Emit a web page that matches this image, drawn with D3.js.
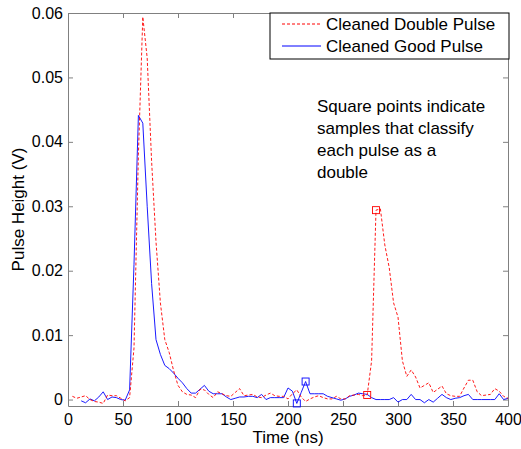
<!DOCTYPE html>
<html>
<head>
<meta charset="utf-8">
<script src="https://cdn.jsdelivr.net/npm/d3@7"></script>
<style>
  body { margin: 0; background: #fff; }
  svg text { font-family: "Liberation Sans", Arial, sans-serif; }
</style>
</head>
<body>
<script>
// samples every 4 ns
const doubleTimes = d3.range(4, 401, 4);
const doubleValues = [
  0.0005, 0.0002, 0.0004, 0.0006, 0.0000, -0.0003, -0.0004, -0.0006, 0.0007, 0.0006,
  0.0006, 0.0002, -0.0002, 0.0003, 0.0080, 0.0380, 0.0594, 0.0530, 0.0370, 0.0245,
  0.0150, 0.0093, 0.0073, 0.0045, 0.0022, 0.0012, 0.0008, 0.0007, 0.0003, 0.0016,
  0.0015, 0.0008, 0.0003, 0.0012, 0.0009, 0.0006, 0.0005, 0.0011, 0.0017, 0.0006,
  0.0007, 0.0008, 0.0004, 0.0003, 0.0007, 0.0010, 0.0006, 0.0005, 0.0005, 0.0001,
  0.0009, 0.0015, 0.0004, -0.0003, 0.0001, 0.0004, 0.0006, 0.0003, 0.0001, 0.0001,
  0.0005, 0.0001, 0.0001, 0.0006, 0.0007, 0.0008, 0.0006, 0.0007, 0.0060, 0.0294,
  0.0296, 0.0240, 0.0205, 0.0150, 0.0128, 0.0060, 0.0036, 0.0046, 0.0035, 0.0018,
  0.0022, 0.0026, 0.0011, 0.0016, 0.0021, 0.0009, 0.0006, 0.0005, 0.0005, 0.0018,
  0.0030, 0.0030, 0.0012, 0.0006, 0.0007, 0.0008, 0.0017, 0.0013, 0.0005, 0.0002
];

const goodTimes = d3.range(12, 401, 4);
const goodValues = [
  -0.0002, -0.0005, 0.0001, -0.0002, 0.0004, 0.0012, 0.0000, 0.0004, 0.0003, 0.0000,
  -0.0001, 0.0015, 0.0210, 0.0441, 0.0429, 0.0300, 0.0180, 0.0093, 0.0070, 0.0053,
  0.0048, 0.0041, 0.0033, 0.0026, 0.0017, 0.0010, 0.0010, 0.0016, 0.0022, 0.0013,
  0.0009, 0.0009, 0.0009, 0.0004, 0.0000, 0.0002, 0.0004, 0.0004, 0.0005, 0.0005,
  0.0003, 0.0008, 0.0000, 0.0003, 0.0003, 0.0003, 0.0003, 0.0018, 0.0013, -0.0006,
  0.0011, 0.0028, 0.0009, 0.0009, 0.0009, 0.0009, 0.0005, 0.0003, 0.0001, -0.0001,
  0.0001, 0.0005, 0.0007, 0.0010, 0.0009, 0.0008, 0.0003, 0.0000, 0.0000, 0.0000,
  0.0000, 0.0003, -0.0004, 0.0000, 0.0000, 0.0008, 0.0000, 0.0000, -0.0005, 0.0000,
  -0.0004, 0.0002, 0.0008, 0.0003, 0.0000, 0.0002, 0.0003, 0.0006, 0.0008, 0.0000,
  0.0000, 0.0000, 0.0000, 0.0000, 0.0000, 0.0009, 0.0000, 0.0002
];

// samples flagged as "double"
const doubleMarks = [272, 280];
const goodMarks = [208, 216];

const xTicks = [0, 50, 100, 150, 200, 250, 300, 350, 400];
const yTicks = [0, 0.01, 0.02, 0.03, 0.04, 0.05, 0.06];

const seriesNames = ["Cleaned Double Pulse", "Cleaned Good Pulse"];
const noteLines = ["Square points indicate", "samples that classify", "each pulse as a", "double"];

const width = 521, height = 449;
const margin = {top: 13, right: 13, bottom: 43, left: 68};
const w = width - margin.left - margin.right;
const h = height - margin.top - margin.bottom;

const svg = d3.select("body").append("svg")
    .attr("width", width)
    .attr("height", height);

const g = svg.append("g").attr("transform", `translate(${margin.left},${margin.top})`);

const x = d3.scaleLinear().domain([0, 400]).range([0, w]);
const y = d3.scaleLinear().domain([-0.001, 0.06]).range([h, 0]);

const yFmt = d => d === 0 ? "0" : d3.format(".2f")(d);

// axes, matlab style box with inward ticks
const styleAxis = sel => {
  sel.selectAll("path.domain").attr("stroke", "#808080");
  sel.selectAll(".tick line").attr("stroke", "#808080");
  sel.selectAll(".tick text").attr("fill", "#000").style("font-size", "16px");
};

g.append("g").attr("transform", `translate(0,${h})`)
  .call(d3.axisBottom(x).tickValues(xTicks).tickSize(-5).tickSizeOuter(0).tickPadding(8))
  .call(styleAxis);
g.append("g")
  .call(d3.axisTop(x).tickValues(xTicks).tickSize(-5).tickSizeOuter(0).tickFormat(""))
  .call(styleAxis);
g.append("g")
  .call(d3.axisLeft(y).tickValues(yTicks).tickSize(-5).tickSizeOuter(0).tickPadding(5).tickFormat(yFmt))
  .call(styleAxis);
g.append("g").attr("transform", `translate(${w},0)`)
  .call(d3.axisRight(y).tickValues(yTicks).tickSize(-5).tickSizeOuter(0).tickFormat(""))
  .call(styleAxis);

const line = d3.line().x(d => x(d[0])).y(d => y(d[1]));

const doubleData = doubleTimes.map((t, i) => [t, doubleValues[i]]);
const goodData = goodTimes.map((t, i) => [t, goodValues[i]]);

g.append("path").datum(goodData)
  .attr("d", line)
  .attr("fill", "none")
  .attr("stroke", "#0000ff")
  .attr("stroke-width", 0.9);

g.append("path").datum(doubleData)
  .attr("d", line)
  .attr("fill", "none")
  .attr("stroke", "#ff0000")
  .attr("stroke-width", 0.9)
  .attr("stroke-dasharray", "3,2");

const sq = 7;
g.selectAll(".mark-good").data(goodData.filter(d => goodMarks.includes(d[0])))
  .enter().append("rect")
  .attr("x", d => x(d[0]) - sq / 2)
  .attr("y", d => y(d[1]) - sq / 2)
  .attr("width", sq).attr("height", sq)
  .attr("fill", "none").attr("stroke", "#0000ff").attr("stroke-width", 0.9);

g.selectAll(".mark-double").data(doubleData.filter(d => doubleMarks.includes(d[0])))
  .enter().append("rect")
  .attr("x", d => x(d[0]) - sq / 2)
  .attr("y", d => y(d[1]) - sq / 2)
  .attr("width", sq).attr("height", sq)
  .attr("fill", "none").attr("stroke", "#ff0000").attr("stroke-width", 0.9);

// axis labels
svg.append("text")
  .attr("x", margin.left + w / 2)
  .attr("y", 443)
  .attr("text-anchor", "middle")
  .style("font-size", "17px")
  .text("Time (ns)");

svg.append("text")
  .attr("transform", `translate(24,${margin.top + h / 2}) rotate(-90)`)
  .attr("text-anchor", "middle")
  .style("font-size", "17px")
  .text("Pulse Height (V)");

// legend
const leg = svg.append("g");
leg.append("rect")
  .attr("x", 270).attr("y", 13)
  .attr("width", 239).attr("height", 46)
  .attr("fill", "#fff").attr("stroke", "#000").attr("stroke-width", 1);

const legColors = ["#ff0000", "#0000ff"];
const legDash = ["3,2", null];
seriesNames.forEach((name, i) => {
  const ly = 24 + i * 22;
  leg.append("line")
    .attr("x1", 282).attr("x2", 321)
    .attr("y1", ly).attr("y2", ly)
    .attr("stroke", legColors[i])
    .attr("stroke-dasharray", legDash[i]);
  leg.append("text")
    .attr("x", 326).attr("y", ly + 6)
    .style("font-size", "17px")
    .text(name);
});

// note
svg.append("text")
  .attr("x", 317).attr("y", 112)
  .style("font-size", "17px")
  .selectAll("tspan").data(noteLines).enter()
  .append("tspan")
  .attr("x", 317)
  .attr("dy", (d, i) => i === 0 ? 0 : 22)
  .text(d => d);
</script>
</body>
</html>
